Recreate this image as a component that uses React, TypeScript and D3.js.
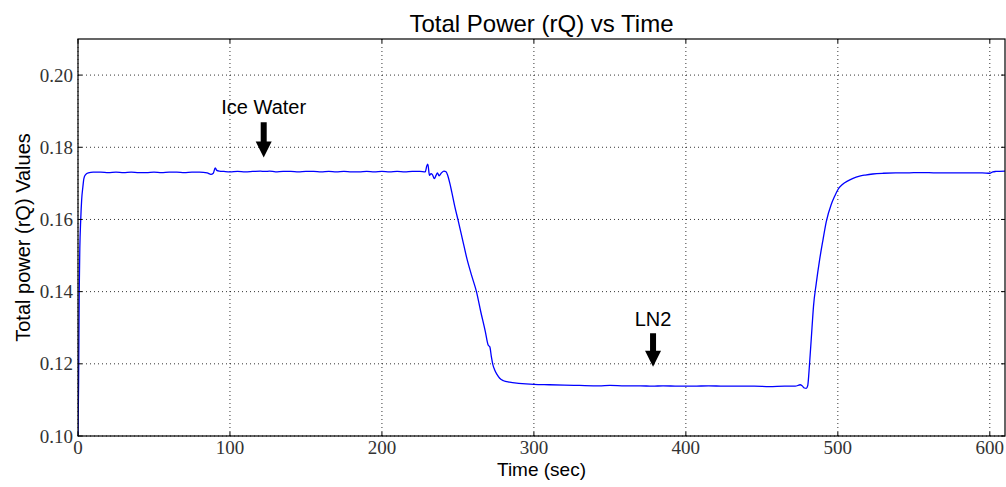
import React from "react";
import * as d3 from "d3";

const timeSec = [
  0, 0.4, 0.8, 1.2, 1.8, 2.4, 3.2, 3.9, 5, 6.8, 10, 15, 20, 25, 30, 35, 40, 45, 50, 55, 60, 65, 70, 75, 80, 85,
  87.5, 89, 90.3, 91.3, 93, 96, 100, 105, 110, 115, 120, 123, 126, 130, 135, 140, 145, 150, 155, 160, 165, 170,
  175, 180, 185, 190, 195, 200, 205, 210, 215, 220, 225, 228.5, 229.5, 230.2, 231.3, 232.3, 233.2, 234.5, 235.6,
  236.5, 237.6, 239, 240.8, 242.2, 243.3, 244.7, 246, 248, 250.1, 253, 256, 259, 262.2, 265, 268, 269.9, 271, 272,
  273, 274.2, 275.8, 277.5, 280, 284, 290, 300, 310, 320, 330, 343, 350, 360, 370, 378, 385, 395, 405, 415, 425,
  435, 445, 455, 465, 472, 475.3, 476.5, 478, 479.2, 480.2, 481.4, 483, 484, 485.8, 488, 490.2, 492.4, 495.7, 498,
  500.1, 503, 506.6, 510, 514.3, 518, 523, 530, 538, 545, 555, 565, 575, 585, 595, 600, 602, 604, 610,
];

const powerRQ = [
  0.1, 0.115, 0.14, 0.152, 0.16, 0.1654, 0.169, 0.1714, 0.1724, 0.1729, 0.1731, 0.1731, 0.173, 0.1731, 0.173,
  0.1731, 0.173, 0.173, 0.1731, 0.173, 0.1731, 0.1731, 0.173, 0.1731, 0.1731, 0.1729,
  0.1725, 0.1728, 0.1743, 0.1736, 0.1734, 0.1733, 0.1732, 0.1733, 0.1732, 0.1733, 0.1734, 0.1733, 0.1734, 0.1732,
  0.1733, 0.1733, 0.1732, 0.1733, 0.1733, 0.1732, 0.1733, 0.1732,
  0.1733, 0.1732, 0.1732, 0.1733, 0.1732, 0.1733, 0.1732, 0.1733, 0.1732, 0.1733, 0.1733, 0.1732, 0.1748, 0.1753,
  0.1722, 0.1727, 0.1724, 0.1713, 0.1722,
  0.1729, 0.1721, 0.1728, 0.1734, 0.1732, 0.1722, 0.17, 0.1675, 0.1635, 0.1598, 0.1545, 0.149, 0.1445, 0.14,
  0.1345, 0.129, 0.1252, 0.1247, 0.122,
  0.1198, 0.1183, 0.117, 0.116, 0.1153, 0.1149, 0.1146, 0.1143, 0.1142, 0.1141, 0.114, 0.1139, 0.114, 0.1139,
  0.1139, 0.1138, 0.1139, 0.1138, 0.1138, 0.1139, 0.1138,
  0.1138, 0.1138, 0.1137, 0.1138, 0.1138, 0.1142, 0.1139, 0.1133, 0.1132, 0.114, 0.1201, 0.13, 0.136, 0.1423,
  0.1488, 0.1543, 0.1594, 0.1642, 0.1665,
  0.1683, 0.1697, 0.1707, 0.1714, 0.172, 0.1723, 0.1726, 0.1728, 0.1729, 0.1729, 0.173, 0.1729, 0.1729, 0.1729,
  0.1729, 0.1728, 0.1732, 0.1733, 0.1734,
];

const xTicks = [0, 100, 200, 300, 400, 500, 600];
const yTicks = [0.1, 0.12, 0.14, 0.16, 0.18, 0.2];

const annotationLabels = ["Ice Water", "LN2"];
const annotationX = [122.2, 378.4];
const annotationTipY = [0.1772, 0.1192];
const annotationTailY = [0.1869, 0.1285];
const annotationTextY = [0.1891, 0.1306];

export default function App() {
  const width = 1006;
  const height = 487;
  const m = { left: 78, right: 1005, top: 39, bottom: 436 };

  const x = d3.scaleLinear().domain([0, 610]).range([m.left, m.right]);
  const y = d3.scaleLinear().domain([0.1, 0.21]).range([m.bottom, m.top]);

  const pts: [number, number][] = timeSec.map((t, i) => [t, powerRQ[i]]);
  const line = d3
    .line<[number, number]>()
    .x((d) => x(d[0]))
    .y((d) => y(d[1]))
    .curve(d3.curveMonotoneX);

  const tickLen = 4;
  const serif = "'Liberation Serif', 'DejaVu Serif', serif";
  const sans = "'Liberation Sans', Arial, Helvetica, sans-serif";

  const arrowPath = (cx: number, tailY: number, tipY: number) => {
    const shaftW = 6;
    const headW = 16;
    const headL = 16;
    const hy = tipY - headL;
    return [
      `M${cx - shaftW / 2},${tailY}`,
      `L${cx + shaftW / 2},${tailY}`,
      `L${cx + shaftW / 2},${hy}`,
      `L${cx + headW / 2},${hy}`,
      `L${cx},${tipY}`,
      `L${cx - headW / 2},${hy}`,
      `L${cx - shaftW / 2},${hy}`,
      "Z",
    ].join(" ");
  };

  return (
    <svg
      width={width}
      height={height}
      style={{ position: "absolute", left: 0, top: 0, background: "#fff" }}
    >
      <defs>
        <clipPath id="plotclip">
          <rect x={m.left} y={m.top} width={m.right - m.left} height={m.bottom - m.top} />
        </clipPath>
      </defs>
      <rect x={0} y={0} width={width} height={height} fill="#fff" />

      {/* grid */}
      <g stroke="#000" strokeWidth={0.8} strokeDasharray="1,3">
        {xTicks.map((t) => (
          <line key={"gx" + t} x1={x(t)} x2={x(t)} y1={m.top} y2={m.bottom} />
        ))}
        {yTicks.map((t) => (
          <line key={"gy" + t} x1={m.left} x2={m.right} y1={y(t)} y2={y(t)} />
        ))}
      </g>

      {/* data line */}
      <path
        d={line(pts) || ""}
        fill="none"
        stroke="#0000ff"
        strokeWidth={1.3}
        clipPath="url(#plotclip)"
      />

      {/* ticks */}
      <g stroke="#000" strokeWidth={1}>
        {xTicks.map((t) => (
          <g key={"tx" + t}>
            <line x1={x(t)} x2={x(t)} y1={m.bottom} y2={m.bottom - tickLen} />
            <line x1={x(t)} x2={x(t)} y1={m.top} y2={m.top + tickLen} />
          </g>
        ))}
        {yTicks.map((t) => (
          <g key={"ty" + t}>
            <line x1={m.left} x2={m.left + tickLen} y1={y(t)} y2={y(t)} />
            <line x1={m.right} x2={m.right - tickLen} y1={y(t)} y2={y(t)} />
          </g>
        ))}
      </g>

      {/* frame */}
      <rect
        x={m.left}
        y={m.top}
        width={m.right - m.left}
        height={m.bottom - m.top}
        fill="none"
        stroke="#000"
        strokeWidth={1.2}
      />

      {/* tick labels */}
      <g fontFamily={serif} fontSize={19} fill="#333">
        {xTicks.map((t) => (
          <text key={"lx" + t} x={x(t)} y={m.bottom + 18} textAnchor="middle">
            {String(t)}
          </text>
        ))}
        {yTicks.map((t) => (
          <text key={"ly" + t} x={m.left - 5} y={y(t) + 6.5} textAnchor="end">
            {t.toFixed(2)}
          </text>
        ))}
      </g>

      {/* annotations */}
      {annotationLabels.map((lab, i) => {
        const cx = x(annotationX[i]);
        return (
          <g key={lab}>
            <text
              x={cx}
              y={y(annotationTextY[i])}
              textAnchor="middle"
              fontFamily={sans}
              fontSize={20}
              fill="#000"
            >
              {lab}
            </text>
            <path d={arrowPath(cx, y(annotationTailY[i]), y(annotationTipY[i]))} fill="#000" />
          </g>
        );
      })}

      {/* title and axis labels */}
      <text x={(m.left + m.right) / 2} y={32} textAnchor="middle" fontFamily={sans} fontSize={24} fill="#000">
        Total Power (rQ) vs Time
      </text>
      <text x={(m.left + m.right) / 2} y={476} textAnchor="middle" fontFamily={sans} fontSize={19} fill="#000">
        Time (sec)
      </text>
      <text
        transform={`translate(30,${(m.top + m.bottom) / 2}) rotate(-90)`}
        textAnchor="middle"
        fontFamily={sans}
        fontSize={20}
        fill="#000"
      >
        Total power (rQ) Values
      </text>
    </svg>
  );
}
